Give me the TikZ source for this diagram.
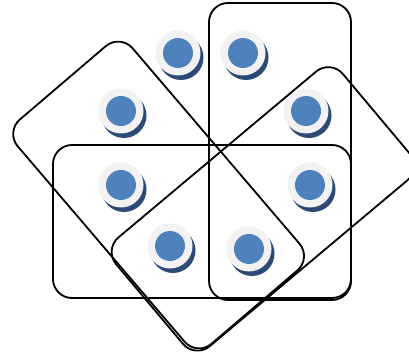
\documentclass[tikz,border=0pt]{standalone}
\usetikzlibrary{calc}
\definecolor{coreblue}{RGB}{79,129,189}
\definecolor{ringgray}{RGB}{242,242,242}
\definecolor{shadeblue}{RGB}{44,74,117}
\tikzset{
  grouprect/.style={draw=black, line width=1.8pt, rounded corners=19pt, inner sep=0pt, outer sep=0pt},
  shadowdisc/.style={circle, fill=shadeblue, minimum size=45pt, inner sep=0pt},
  ringdisc/.style={circle, fill=ringgray, minimum size=45pt, inner sep=0pt},
  coredisc/.style={circle, fill=coreblue, minimum size=30pt, inner sep=0pt}
}
\begin{document}
\begin{tikzpicture}[x=1pt, y=-1pt]
\useasboundingbox[fill=white] (0,0) rectangle (409,355);
% group rectangles
\node[grouprect, minimum width=142pt, minimum height=297pt] (vrect) at (280,151.5) {};
\node[grouprect, minimum width=298pt, minimum height=153pt] (hrect) at (202,221.5) {};
\node[grouprect, minimum width=295pt, minimum height=151pt, rotate=-49.5] (drect) at (158.6,195) {};
\node[grouprect, minimum width=296pt, minimum height=142pt, rotate=40] (arect) at (262.9,208.9) {};
% discs
\foreach \n/\x/\y in {1/178/53, 2/243/53, 3/121/111, 4/306/111, 5/121/185, 6/310/185, 7/170/246, 8/249/249} {
  \node[shadowdisc] (s\n) at (\x+3,\y+4.5) {};
  \node[ringdisc] (r\n) at (\x,\y) {};
  \node[coredisc] (c\n) at (\x,\y) {};
}
\end{tikzpicture}
\end{document}
